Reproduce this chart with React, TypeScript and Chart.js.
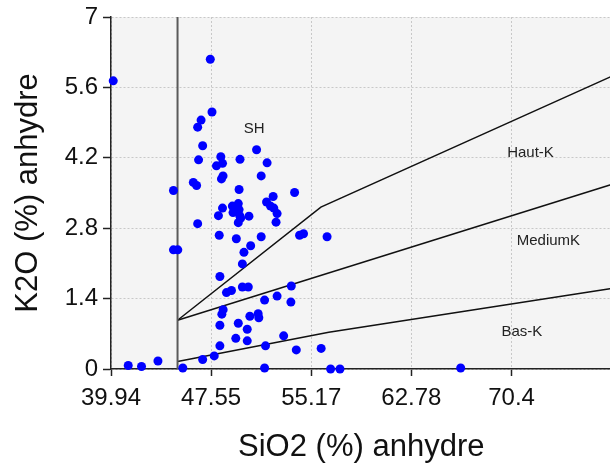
import React, { useEffect, useRef } from 'react';
import { Chart, registerables } from 'chart.js';

Chart.register(...registerables);

// Sample values (SiO2 %, K2O %), anhydrous
const sio2 = [
  40.11, 47.49, 47.62, 46.79, 46.53, 46.91, 51.01, 46.60, 48.29, 48.42,
  47.96, 49.75, 51.81, 48.46, 48.34, 51.36, 46.20, 46.45, 44.69, 49.68,
  53.90, 52.27, 51.77, 52.07, 52.32, 52.57, 52.49, 48.42, 48.11, 49.17,
  49.62, 49.68, 49.22, 49.73, 49.80, 49.62, 50.43, 46.53, 48.17, 49.47,
  51.36, 50.56, 50.05, 49.93, 44.69, 45.02, 54.28, 54.58, 56.37, 48.22,
  48.72, 49.10, 49.93, 50.38, 53.65, 52.57, 51.62, 53.62, 48.47, 48.37,
  50.50, 51.13, 51.18, 48.22, 49.62, 50.30, 49.43, 50.30, 53.07, 48.22,
  51.69, 54.03, 55.92, 56.64, 57.35, 41.25, 42.26, 43.51, 46.91, 47.79,
  45.40, 51.62, 66.53,
];
const k2o = [
  5.73, 6.16, 5.11, 4.95, 4.81, 4.44, 4.36, 4.16, 4.22, 4.09,
  4.04, 4.17, 4.10, 3.84, 3.78, 3.84, 3.71, 3.65, 3.55, 3.57,
  3.51, 3.43, 3.32, 3.24, 3.20, 3.09, 2.92, 3.20, 3.05, 3.24,
  3.29, 3.17, 3.11, 3.05, 3.00, 2.91, 3.04, 2.89, 2.66, 2.59,
  2.63, 2.45, 2.32, 2.09, 2.37, 2.37, 2.66, 2.69, 2.63, 1.84,
  1.52, 1.56, 1.63, 1.63, 1.65, 1.45, 1.37, 1.33, 1.18, 1.09,
  1.05, 1.10, 1.02, 0.87, 0.91, 0.79, 0.61, 0.56, 0.66, 0.46,
  0.46, 0.38, 0.41, 0.0, 0.0, 0.07, 0.05, 0.16, 0.19, 0.26,
  0.02, 0.02, 0.02,
];

// Axis ticks
const xTicks = [39.94, 47.55, 55.17, 62.78, 70.4];
const yTicks = [0, 1.4, 2.8, 4.2, 5.6, 7];
const xMin = 39.94;
const xMax = 78;
const yMin = 0;
const yMax = 7;

// Field boundaries
const divideX = [45, 45];
const divideY = [0, 7];
const basKX = [45, 56.5, 78];
const basKY = [0.15, 0.73, 1.6];
const mediumKX = [45, 78];
const mediumKY = [0.97, 3.67];
const hautKX = [45, 55.9, 78];
const hautKY = [0.97, 3.22, 5.82];

// Field names
const fieldLabels = ['SH', 'Haut-K', 'MediumK', 'Bas-K'];
const labelX = [50.83, 71.84, 73.2, 71.19];
const labelY = [4.77, 4.3, 2.55, 0.74];

const FONT = '"Liberation Sans", Arial, sans-serif';

const toPts = (xs: number[], ys: number[]) => xs.map((x, i) => ({ x, y: ys[i] }));

const bgPlugin = {
  id: 'plotBg',
  beforeDraw(chart: any) {
    const { ctx, chartArea: a } = chart;
    ctx.save();
    ctx.fillStyle = '#f4f4f4';
    ctx.fillRect(a.left, a.top, a.right - a.left, a.bottom - a.top);
    ctx.restore();
  },
};

const labelPlugin = {
  id: 'fieldLabels',
  afterDatasetsDraw(chart: any) {
    const { ctx } = chart;
    const xs = chart.scales.x;
    const ys = chart.scales.y;
    ctx.save();
    ctx.font = `15px ${FONT}`;
    ctx.fillStyle = '#222';
    ctx.textAlign = 'center';
    ctx.textBaseline = 'middle';
    fieldLabels.forEach((t, i) => {
      ctx.fillText(t, xs.getPixelForValue(labelX[i]), ys.getPixelForValue(labelY[i]));
    });
    ctx.restore();
  },
};

export default function App() {
  const ref = useRef<HTMLCanvasElement | null>(null);

  useEffect(() => {
    if (!ref.current) return;
    const lineDs = (xs: number[], ys: number[], color: string, width: number) => ({
      data: toPts(xs, ys),
      showLine: true,
      borderColor: color,
      borderWidth: width,
      pointRadius: 0,
      pointHoverRadius: 0,
      fill: false,
    });
    const chart = new Chart(ref.current, {
      type: 'scatter',
      data: {
        datasets: [
          {
            data: toPts(sio2, k2o),
            backgroundColor: '#0000ff',
            borderWidth: 0,
            pointRadius: 4.5,
            clip: false,
          } as any,
          lineDs(divideX, divideY, '#5a5a5a', 2),
          lineDs(basKX, basKY, '#111', 1.5),
          lineDs(mediumKX, mediumKY, '#111', 1.5),
          lineDs(hautKX, hautKY, '#111', 1.5),
        ],
      },
      options: {
        responsive: false,
        animation: false,
        events: [],
        layout: { padding: { top: 14, left: 0, right: 1, bottom: 0 } },
        plugins: { legend: { display: false }, tooltip: { enabled: false } },
        scales: {
          x: {
            type: 'linear',
            min: xMin,
            max: xMax,
            afterBuildTicks: (s: any) => {
              s.ticks = xTicks.map((v) => ({ value: v }));
            },
            afterFit: (s: any) => {
              s.height = 97;
            },
            ticks: {
              autoSkip: false,
              maxRotation: 0,
              padding: 10,
              color: '#111',
              font: { family: FONT, size: 24, lineHeight: 1 },
              callback: (v: any) => String(v),
            },
            grid: { color: '#c8c8c8', lineWidth: 1, tickLength: 7, tickColor: '#222', tickWidth: 1.5 },
            border: { color: '#222', width: 1.5, dash: [2, 2] },
            title: {
              display: true,
              text: 'SiO2 (%) anhydre',
              color: '#111',
              font: { family: FONT, size: 31, lineHeight: 1 },
              padding: { top: 0, bottom: 3 },
            },
          },
          y: {
            type: 'linear',
            min: yMin,
            max: yMax,
            afterBuildTicks: (s: any) => {
              s.ticks = yTicks.map((v) => ({ value: v }));
            },
            afterFit: (s: any) => {
              s.width = 111;
            },
            ticks: {
              padding: 5,
              color: '#111',
              font: { family: FONT, size: 24, lineHeight: 1 },
              callback: (v: any) => String(v),
            },
            grid: { color: '#c8c8c8', lineWidth: 1, tickLength: 8, tickColor: '#222', tickWidth: 1.5 },
            border: { color: '#222', width: 1.5, dash: [2, 2] },
            title: {
              display: true,
              text: 'K2O (%) anhydre',
              color: '#111',
              font: { family: FONT, size: 31, lineHeight: 1 },
              padding: { top: 13, bottom: 0 },
            },
          },
        },
      } as any,
      plugins: [bgPlugin, labelPlugin],
    });
    return () => chart.destroy();
  }, []);

  return (
    <div
      style={{
        position: 'fixed',
        left: 0,
        top: 0,
        width: 610,
        height: 466,
        overflow: 'hidden',
        background: '#fff',
      }}
    >
      <canvas ref={ref} width={616} height={466} style={{ display: 'block' }} />
    </div>
  );
}
